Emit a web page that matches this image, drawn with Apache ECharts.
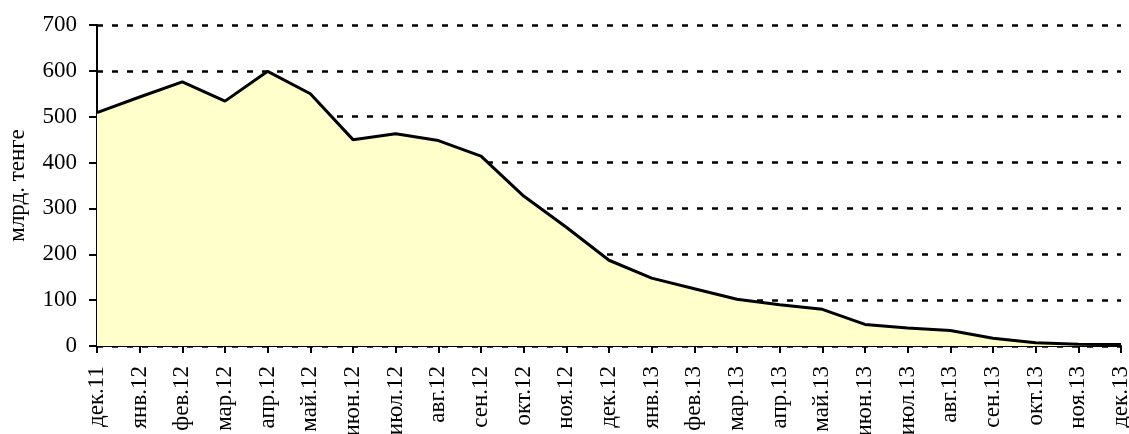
<!DOCTYPE html>
<html><head><meta charset="utf-8">
<script src="https://cdn.jsdelivr.net/npm/echarts@6/dist/echarts.min.js"></script>
<style>html,body{margin:0;padding:0;background:#fff}#c{width:1129px;height:434px}</style>
</head><body><div id="c"></div>
<script>
const categories = ['дек.11','янв.12','фев.12','мар.12','апр.12','май.12','июн.12','июл.12','авг.12','сен.12','окт.12','ноя.12','дек.12','янв.13','фев.13','мар.13','апр.13','май.13','июн.13','июл.13','авг.13','сен.13','окт.13','ноя.13','дек.13'];
const values = [509,543,576,534,599,550,450,463,448,414,327,259,187,148,125,102,90,80,47,39,34,17,7,4,3];
const yTicks = {min:0, max:700, interval:100};
const yName = 'млрд. тенге';
const font = '"Liberation Serif", "Times New Roman", serif';
const chart = echarts.init(document.getElementById('c'));
chart.setOption({
  animation:false,
  grid:{left:97,right:8,top:25,bottom:88,containLabel:false,outerBoundsMode:'none'},
  xAxis:{type:'category',data:categories,boundaryGap:false,
    axisLine:{lineStyle:{color:'#000',width:2}},
    axisTick:{show:true,inside:false,length:7,alignWithLabel:true,lineStyle:{color:'#000',width:2},interval:0},
    axisLabel:{rotate:90,interval:0,margin:20,color:'#000',fontFamily:font,fontSize:23},
    splitLine:{show:false}},
  yAxis:{type:'value',min:yTicks.min,max:yTicks.max,interval:yTicks.interval,
    name:yName,nameLocation:'middle',nameGap:68,nameRotate:90,
    nameTextStyle:{color:'#000',fontFamily:font,fontSize:23},
    axisLine:{show:true,lineStyle:{color:'#000',width:2}},
    axisTick:{show:true,length:8,lineStyle:{color:'#000',width:2}},
    axisLabel:{margin:20,color:'#000',fontFamily:font,fontSize:23},
    splitLine:{show:true,lineStyle:{color:'#000',width:2.5,type:[6,9]}}},
  series:[{type:'line',data:values,symbol:'none',
    lineStyle:{color:'#000',width:3},
    areaStyle:{color:'#FFFFCC',opacity:1},z:1}]
});
</script></body></html>
